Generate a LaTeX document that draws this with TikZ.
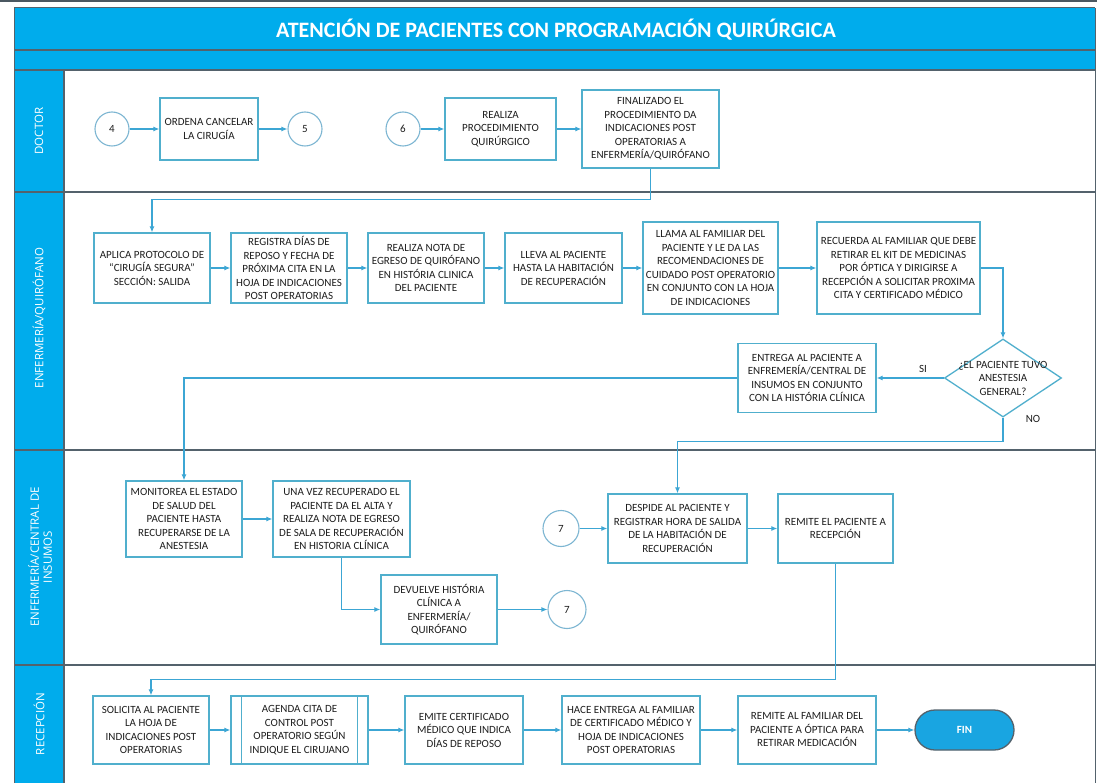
\documentclass[tikz,border=0pt]{standalone}
\usepackage{fontspec}
\setmainfont{Carlito}
\newfontfamily\lanefont{Open Sans}
\usetikzlibrary{arrows.meta,shapes.geometric,calc}
\definecolor{bandc}{RGB}{0,172,236}
\definecolor{darkl}{RGB}{84,98,108}
\definecolor{boxc}{RGB}{80,175,205}
\definecolor{linec}{RGB}{60,166,212}
\definecolor{circc}{RGB}{125,182,210}
\definecolor{finc}{RGB}{25,165,225}
\definecolor{txtc}{RGB}{30,30,30}
\newcommand{\bfnt}{\fontsize{11}{13.5}\selectfont}
\tikzset{
  box/.style={draw=boxc, line width=1.3pt, fill=white, align=center, font=\bfnt, text=txtc, inner sep=1pt},
  conn/.style={draw=linec, line width=1.1pt, -{Latex[length=6pt,width=5pt]}},
  circ/.style={circle, draw=circc, line width=1.1pt, minimum size=34pt, inner sep=0pt, font=\bfnt, text=txtc, fill=white},
  lanelab/.style={rotate=90, text=white, align=center, font=\lanefont\fontsize{11.5}{13}\selectfont},
  lbl/.style={font=\bfnt, text=txtc, inner sep=1pt},
  decision/.style={diamond, draw=boxc, line width=1.3pt, fill=white, inner sep=0pt, minimum width=117pt, minimum height=78pt},
}
\begin{document}
\begin{tikzpicture}[x=1pt,y=-1pt]
\useasboundingbox (0,0) rectangle (1097,783);
\fill[white] (0,0) rectangle (1097,783);
\fill[darkl!90!black] (0,0) rectangle (1097,2.5);
% title band and lanes
\fill[bandc] (14,8) rectangle (1095,70);
\fill[bandc] (14,70) rectangle (64,783);
\draw[darkl, line width=1pt] (14,8) -- (1095,8);
\draw[darkl, line width=1.2pt] (14,50) -- (1095,50);
\foreach \yy in {70,192,450,665}{\draw[darkl, line width=2pt] (14,\yy) -- (1095,\yy);}
\draw[darkl, line width=1pt] (14,8) -- (14,783);
\draw[darkl, line width=1.2pt] (64,70) -- (64,783);
\draw[darkl, line width=1pt] (1095,8) -- (1095,783);
\node[text=white, font=\fontsize{22}{26}\selectfont\bfseries] (title) at (556,30) {ATENCIÓN DE PACIENTES CON PROGRAMACIÓN QUIRÚRGICA};
% lane labels
\node[lanelab] (ldoc) at (39,131) {DOCTOR};
\node[lanelab] (lquir) at (39,318) {ENFERMERÍA/QUIRÓFANO};
\node[lanelab] (lcen) at (40,557) {ENFERMERÍA/CENTRAL DE\\INSUMOS};
\node[lanelab] (lrec) at (39,724) {RECEPCIÓN};
% doctor lane
\node[circ] (c4) at (112,129) {4};
\node[box, minimum width=98pt, minimum height=62pt] (ordena) at (209,129) {ORDENA CANCELAR\\LA CIRUGÍA};
\node[circ] (c5) at (305,129) {5};
\node[circ] (c6) at (403,129) {6};
\node[box, minimum width=111pt, minimum height=62pt] (realiza) at (500.5,129) {REALIZA\\PROCEDIMIENTO\\QUIRÚRGICO};
\node[box, minimum width=137pt, minimum height=78pt] (final) at (650.5,129) {FINALIZADO EL\\PROCEDIMIENTO DA\\INDICACIONES POST\\OPERATORIAS A\\ENFERMERÍA/QUIRÓFANO};
% enfermeria quirofano lane
\node[box, minimum width=116pt, minimum height=70pt] (aplica) at (152,268) {APLICA PROTOCOLO DE\\“CIRUGÍA SEGURA”\\SECCIÓN: SALIDA};
\node[box, minimum width=116pt, minimum height=70pt] (registra) at (289,268) {REGISTRA DÍAS DE\\REPOSO Y FECHA DE\\PRÓXIMA CITA EN LA\\HOJA DE INDICACIONES\\POST OPERATORIAS};
\node[box, minimum width=116pt, minimum height=70pt] (nota) at (426,268) {REALIZA NOTA DE\\EGRESO DE QUIRÓFANO\\EN HISTÓRIA CLINICA\\DEL PACIENTE};
\node[box, minimum width=117pt, minimum height=70pt] (lleva) at (563.5,268) {LLEVA AL PACIENTE\\HASTA LA HABITACIÓN\\DE RECUPERACIÓN};
\node[box, minimum width=135pt, minimum height=92pt] (llama) at (710.5,268) {LLAMA AL FAMILIAR DEL\\PACIENTE Y LE DA LAS\\RECOMENDACIONES DE\\CUIDADO POST OPERATORIO\\EN CONJUNTO CON LA HOJA\\DE INDICACIONES};
\node[box, minimum width=163pt, minimum height=92pt] (recuerda) at (898.5,268) {RECUERDA AL FAMILIAR QUE DEBE\\RETIRAR EL KIT DE MEDICINAS\\POR ÓPTICA Y DIRIGIRSE A\\RECEPCIÓN A SOLICITAR PROXIMA\\CITA Y CERTIFICADO MÉDICO};
\node[decision, label={[lbl, align=center]center:{¿EL PACIENTE TUVO\\ANESTESIA\\GENERAL?}}] (dec) at (1003,378) {};
\node[box, minimum width=138pt, minimum height=69pt] (entrega) at (807,378) {ENTREGA AL PACIENTE A\\ENFREMERÍA/CENTRAL DE\\INSUMOS EN CONJUNTO\\CON LA HISTÓRIA CLÍNICA};
\node[lbl] (si) at (923,369) {SI};
\node[lbl] (no) at (1033,419) {NO};
% central de insumos lane
\node[box, minimum width=116pt, minimum height=76pt] (monitorea) at (184,519) {MONITOREA EL ESTADO\\DE SALUD DEL\\PACIENTE HASTA\\RECUPERARSE DE LA\\ANESTESIA};
\node[box, minimum width=137pt, minimum height=76pt] (unavez) at (341.5,519) {UNA VEZ RECUPERADO EL\\PACIENTE DA EL ALTA Y\\REALIZA NOTA DE EGRESO\\DE SALA DE RECUPERACIÓN\\EN HISTORIA CLÍNICA};
\node[box, minimum width=116pt, minimum height=69pt] (devuelve) at (439,609.5) {DEVUELVE HISTÓRIA\\CLÍNICA A\\ENFERMERÍA/\\QUIRÓFANO};
\node[circ, minimum size=38pt] (c7b) at (567,609.5) {7};
\node[circ, minimum size=36pt] (c7a) at (561,528.5) {7};
\node[box, minimum width=139pt, minimum height=69pt] (despide) at (677.5,528.5) {DESPIDE AL PACIENTE Y\\REGISTRAR HORA DE SALIDA\\DE LA HABITACIÓN DE\\RECUPERACIÓN};
\node[box, minimum width=115pt, minimum height=69pt] (remite) at (835.5,528.5) {REMITE EL PACIENTE A\\RECEPCIÓN};
% recepcion lane
\node[box, minimum width=116pt, minimum height=68pt] (solicita) at (151,730) {SOLICITA AL PACIENTE\\LA HOJA DE\\INDICACIONES POST\\OPERATORIAS};
\node[box, minimum width=137pt, minimum height=68pt] (agenda) at (299.5,730) {AGENDA CITA DE\\CONTROL POST\\OPERATORIO SEGÚN\\INDIQUE EL CIRUJANO};
\draw[boxc, line width=1.3pt] ([xshift=11pt]agenda.north west) -- ([xshift=11pt]agenda.south west);
\draw[boxc, line width=1.3pt] ([xshift=-11pt]agenda.north east) -- ([xshift=-11pt]agenda.south east);
\node[box, minimum width=118pt, minimum height=68pt] (emite) at (464,730) {EMITE CERTIFICADO\\MÉDICO QUE INDICA\\DÍAS DE REPOSO};
\node[box, minimum width=138pt, minimum height=68pt] (hace) at (631,730) {HACE ENTREGA AL FAMILIAR\\DE CERTIFICADO MÉDICO Y\\HOJA DE INDICACIONES\\POST OPERATORIAS};
\node[box, minimum width=138pt, minimum height=68pt] (remfam) at (807,730) {REMITE AL FAMILIAR DEL\\PACIENTE A ÓPTICA PARA\\RETIRAR MEDICACIÓN};
\node[draw=darkl, line width=1.3pt, fill=finc, rounded corners=20pt, minimum width=99pt, minimum height=40pt, text=white, font=\bfnt\bfseries] (fin) at (964.5,730) {FIN};
% connectors
\draw[conn] (c4) -- (ordena);
\draw[conn] (ordena) -- (c5);
\draw[conn] (c6) -- (realiza);
\draw[conn] (realiza) -- (final);
\draw[conn] (final.south) -- ++(0,31) -| (aplica.north);
\draw[conn] (aplica) -- (registra);
\draw[conn] (registra) -- (nota);
\draw[conn] (nota) -- (lleva);
\draw[conn] (lleva) -- (llama);
\draw[conn] (llama) -- (recuerda);
\draw[conn] (recuerda.east) -| (dec.north);
\draw[conn] (dec.west) -- (entrega.east);
\draw[conn] (entrega.west) -| (monitorea.north);
\draw[conn] (dec.south) -- ++(0,24) -| (despide.north);
\draw[conn] (monitorea) -- (unavez);
\draw[conn] (unavez.south) |- (devuelve.west);
\draw[conn] (devuelve) -- (c7b);
\draw[conn] (c7a) -- (despide);
\draw[conn] (despide) -- (remite);
\draw[conn] (remite.south) -- ++(0,116) -| (solicita.north);
\draw[conn] (solicita) -- (agenda);
\draw[conn] (agenda) -- (emite);
\draw[conn] (emite) -- (hace);
\draw[conn] (hace) -- (remfam);
\draw[conn] (remfam) -- (fin);
\end{tikzpicture}
\end{document}
